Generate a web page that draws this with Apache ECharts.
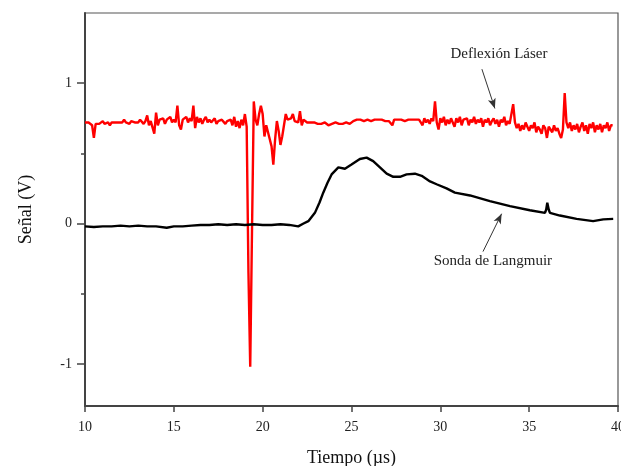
<!DOCTYPE html>
<html>
<head>
<meta charset="utf-8">
<script src="https://cdn.jsdelivr.net/npm/echarts@6/dist/echarts.min.js"></script>
<style>
	html, body { margin: 0; padding: 0; background: #fff; }
	#senalChart { width: 621px; height: 466px; }
</style>
</head>
<body>
<div id="senalChart"></div>
<script>
// Deflexión Láser: muestras cada 0.1 µs desde 10.0 µs
var laserStart = 10.0;
var laserStep = 0.1;
var laserValues = [
	0.72, 0.71, 0.72, 0.73, 0.70, 0.61, 0.71, 0.72, 0.71, 0.72,
	0.73, 0.71, 0.72, 0.72, 0.70, 0.72, 0.73, 0.72, 0.71, 0.72,
	0.73, 0.72, 0.74, 0.72, 0.73, 0.71, 0.73, 0.74, 0.72, 0.73,
	0.72, 0.74, 0.73, 0.71, 0.73, 0.77, 0.70, 0.73, 0.74, 0.64,
	0.79, 0.70, 0.74, 0.73, 0.75, 0.71, 0.74, 0.73, 0.76, 0.72,
	0.74, 0.72, 0.84, 0.70, 0.67, 0.74, 0.73, 0.76, 0.72, 0.75,
	0.73, 0.84, 0.68, 0.76, 0.72, 0.75, 0.71, 0.74, 0.76, 0.72,
	0.74, 0.72, 0.73, 0.75, 0.71, 0.73, 0.72, 0.74, 0.73, 0.71,
	0.73, 0.72, 0.74, 0.70, 0.76, 0.69, 0.73, 0.68, 0.74, 0.70,
	0.78, 0.69, -0.35, -1.02, -0.05, 0.87, 0.74, 0.70, 0.78, 0.84,
	0.78, 0.62, 0.70, 0.71, 0.60, 0.55, 0.42, 0.60, 0.73, 0.66,
	0.56, 0.62, 0.70, 0.78, 0.74, 0.73, 0.75, 0.78, 0.73, 0.74,
	0.72, 0.80, 0.70, 0.74, 0.73, 0.72, 0.73, 0.72, 0.73, 0.72,
	0.72, 0.71, 0.72, 0.71, 0.71, 0.72, 0.71, 0.70, 0.71, 0.71,
	0.71, 0.72, 0.71, 0.71, 0.72, 0.71, 0.71, 0.72, 0.71, 0.71,
	0.72, 0.73, 0.74, 0.74, 0.73, 0.74, 0.74, 0.73, 0.74, 0.74,
	0.74, 0.73, 0.74, 0.74, 0.73, 0.74, 0.73, 0.74, 0.74, 0.73,
	0.74, 0.73, 0.72, 0.70, 0.74, 0.73, 0.74, 0.73, 0.74, 0.74,
	0.73, 0.74, 0.74, 0.73, 0.74, 0.73, 0.74, 0.73, 0.74, 0.72,
	0.70, 0.75, 0.72, 0.74, 0.71, 0.75, 0.73, 0.87, 0.72, 0.67,
	0.75, 0.72, 0.76, 0.70, 0.74, 0.71, 0.75, 0.72, 0.69, 0.75,
	0.72, 0.76, 0.70, 0.74, 0.73, 0.75, 0.70, 0.74, 0.72, 0.76,
	0.71, 0.74, 0.72, 0.75, 0.69, 0.74, 0.72, 0.75, 0.70, 0.73,
	0.75, 0.71, 0.74, 0.69, 0.74, 0.72, 0.76, 0.70, 0.73, 0.71,
	0.72, 0.85, 0.72, 0.68, 0.71, 0.66, 0.70, 0.67, 0.72, 0.69,
	0.66, 0.70, 0.68, 0.72, 0.65, 0.69, 0.67, 0.64, 0.70, 0.68,
	0.61, 0.69, 0.67, 0.65, 0.70, 0.66, 0.68, 0.64, 0.61, 0.67,
	0.93, 0.72, 0.68, 0.72, 0.66, 0.70, 0.67, 0.71, 0.65, 0.69,
	0.72, 0.66, 0.70, 0.64, 0.71, 0.68, 0.72, 0.65, 0.70, 0.67,
	0.71, 0.65, 0.70, 0.68, 0.72, 0.66, 0.70, 0.70
];

// Sonda de Langmuir: [tiempo µs, señal V]
var sondaPoints = [
	[10.0, -0.02], [10.5, -0.025], [11.0, -0.02], [11.5, -0.02], [12.0, -0.015],
	[12.5, -0.02], [13.0, -0.015], [13.5, -0.02], [14.0, -0.02], [14.6, -0.03],
	[15.0, -0.02], [15.5, -0.02], [16.0, -0.015], [16.5, -0.01], [17.0, -0.01],
	[17.5, -0.005], [18.0, -0.01], [18.5, -0.005], [19.0, -0.01], [19.5, -0.005],
	[20.0, -0.01], [20.5, -0.01], [21.0, -0.005], [21.5, -0.01], [22.0, -0.02],
	[22.3, 0.0], [22.57, 0.017], [22.94, 0.076], [23.2, 0.15], [23.41, 0.22],
	[23.65, 0.29], [23.88, 0.35], [24.26, 0.40], [24.63, 0.39], [25.0, 0.42],
	[25.47, 0.46], [25.85, 0.47], [26.22, 0.445], [26.6, 0.40], [26.98, 0.355],
	[27.35, 0.333], [27.73, 0.333], [28.1, 0.35], [28.57, 0.355], [28.95, 0.34],
	[29.42, 0.30], [29.79, 0.28], [30.35, 0.25], [30.82, 0.22], [31.67, 0.20],
	[32.79, 0.16], [33.92, 0.124], [35.04, 0.095], [35.89, 0.076], [35.96, 0.10],
	[36.02, 0.148], [36.1, 0.10], [36.17, 0.076], [36.73, 0.057], [37.67, 0.033],
	[38.6, 0.017], [39.17, 0.03], [39.73, 0.033]
];

var xTicks = [10, 15, 20, 25, 30, 35, 40];
var yLabels = [-1, 0, 1];
var yMinorTicks = [-0.5, 0.5];

var laserPoints = laserValues.map(function (v, i) {
	return [+(laserStart + i * laserStep).toFixed(2), v];
});

var serif = '"Liberation Serif", "DejaVu Serif", serif';
var myChart = echarts.init(document.getElementById('senalChart'));

var option = {
	animation: false,
	grid: {
		left: 85,
		right: 3,
		top: 13,
		bottom: 60,
		outerBoundsMode: 'none',
		containLabel: false,
		show: true,
		borderColor: '#555',
		borderWidth: 1.2
	},
	xAxis: {
		type: 'value',
		min: xTicks[0],
		max: xTicks[xTicks.length - 1],
		interval: 5,
		name: 'Tiempo (µs)',
		nameLocation: 'middle',
		nameGap: 43,
		nameTextStyle: { fontFamily: serif, fontSize: 18, color: '#111' },
		axisLine: { onZero: false, lineStyle: { color: '#444', width: 2 } },
		axisTick: { inside: false, length: 6, lineStyle: { color: '#444', width: 1.5 } },
		axisLabel: { fontFamily: serif, fontSize: 14, color: '#222', margin: 14 },
		splitLine: { show: false }
	},
	yAxis: [
		{
			type: 'value',
			min: -1.3,
			max: 1.5,
			name: 'Señal (V)',
			nameLocation: 'middle',
			nameGap: 50,
			nameTextStyle: { fontFamily: serif, fontSize: 18, color: '#111' },
			axisLine: { show: true, onZero: false, lineStyle: { color: '#444', width: 2 } },
			axisTick: { show: true, length: 8, customValues: yLabels, lineStyle: { color: '#444', width: 1.5 } },
			axisLabel: { fontFamily: serif, fontSize: 14, color: '#222', margin: 13, customValues: yLabels },
			splitLine: { show: false }
		},
		{
			type: 'value',
			min: -1.3,
			max: 1.5,
			position: 'left',
			axisLine: { show: false, onZero: false },
			axisTick: { show: true, length: 4, customValues: yMinorTicks, lineStyle: { color: '#444', width: 1.5 } },
			axisLabel: { show: false },
			splitLine: { show: false }
		}
	],
	series: [
		{
			name: 'Deflexión Láser',
			type: 'line',
			data: laserPoints,
			showSymbol: false,
			lineStyle: { color: '#ff0000', width: 2.4 },
			markPoint: {
				silent: true,
				symbolSize: 0,
				label: { show: true, position: 'inside', fontFamily: serif, fontSize: 15, color: '#222' },
				data: [{ coord: [33.3, 1.207], value: 'Deflexión Láser' }]
			},
			markLine: {
				silent: true,
				symbol: ['none', 'arrow'],
				symbolSize: [6, 10],
				label: { show: false },
				lineStyle: { color: '#333', width: 1, type: 'solid' },
				data: [[{ coord: [32.34, 1.10] }, { coord: [33.07, 0.82] }]]
			}
		},
		{
			name: 'Sonda de Langmuir',
			type: 'line',
			data: sondaPoints,
			showSymbol: false,
			lineStyle: { color: '#000', width: 2.4 },
			markPoint: {
				silent: true,
				symbolSize: 0,
				label: { show: true, position: 'inside', fontFamily: serif, fontSize: 15, color: '#222' },
				data: [{ coord: [32.96, -0.27], value: 'Sonda de Langmuir' }]
			},
			markLine: {
				silent: true,
				symbol: ['none', 'arrow'],
				symbolSize: [6, 10],
				label: { show: false },
				lineStyle: { color: '#333', width: 1, type: 'solid' },
				data: [[{ coord: [32.4, -0.2] }, { coord: [33.45, 0.07] }]]
			}
		}
	]
};
myChart.setOption(option);
</script>
</body>
</html>
